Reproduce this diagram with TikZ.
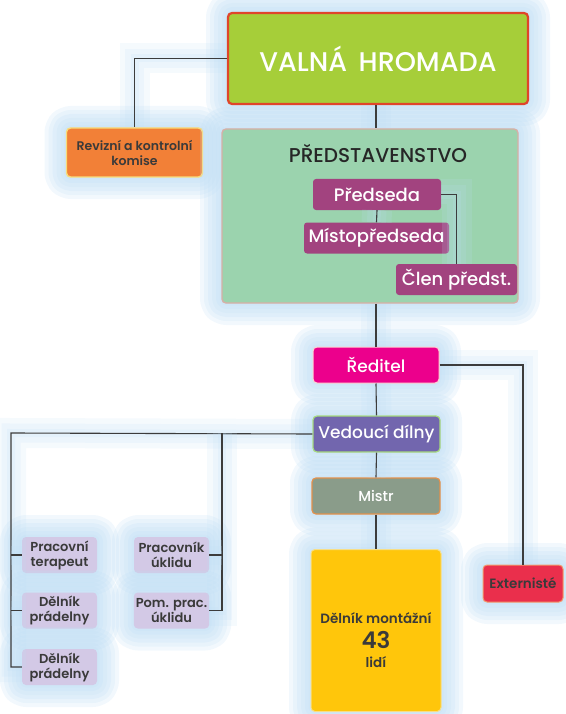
\documentclass[tikz,border=0pt]{standalone}
\usepackage{fontspec}
\setmainfont{Poppins Medium}[BoldFont=Poppins SemiBold]
\definecolor{glowblue}{HTML}{BEDDF4}
\definecolor{linegray}{HTML}{3C3C3C}
\definecolor{vhgreen}{HTML}{A6CE39}
\definecolor{vhred}{HTML}{E0452A}
\definecolor{revorange}{HTML}{F28037}
\definecolor{revyellow}{HTML}{F9DC78}
\definecolor{pstgreen}{HTML}{9BD3AE}
\definecolor{pstpink}{HTML}{D7AFA6}
\definecolor{plum}{HTML}{A2437F}
\definecolor{redmag}{HTML}{EC008C}
\definecolor{vedviolet}{HTML}{7266AE}
\definecolor{vedlime}{HTML}{A6D97E}
\definecolor{mistrgray}{HTML}{8A9C8A}
\definecolor{mistrorange}{HTML}{E3914C}
\definecolor{yellowbox}{HTML}{FFC60B}
\definecolor{yellowrim}{HTML}{F7DE86}
\definecolor{extred}{HTML}{EA2F4C}
\definecolor{extrim}{HTML}{F39A6C}
\definecolor{lavender}{HTML}{D3C9E6}
\definecolor{textgray}{HTML}{3A3A3A}
\begin{document}
\begin{tikzpicture}[x=1pt, y=-1pt]
    \tikzstyle{glow} = [preaction={draw=glowblue, line width=44pt, opacity=0.2, line join=round},
                        preaction={draw=glowblue, line width=36pt, opacity=0.2, line join=round},
                        preaction={draw=glowblue, line width=28pt, opacity=0.2, line join=round},
                        preaction={draw=glowblue, line width=20pt, opacity=0.2, line join=round},
                        preaction={draw=glowblue, line width=12pt, opacity=0.2, line join=round},
                        preaction={draw=glowblue, line width=5pt, opacity=0.2, line join=round}]
    \tikzstyle{box} = [rounded corners=4pt, inner sep=2pt, align=center, glow]
    \tikzstyle{small} = [box, fill=lavender, text=textgray, font=\fontsize{13}{15}\selectfont\bfseries, minimum width=75pt, minimum height=36pt]
    \tikzstyle{member} = [rounded corners=3pt, fill=plum, text=white, inner sep=2pt, font=\fontsize{18}{20}\selectfont, minimum height=31pt]
    \tikzstyle{line} = [draw=linegray, line width=1.1pt,
                        preaction={draw=glowblue, line width=30pt, opacity=0.16},
                        preaction={draw=glowblue, line width=19pt, opacity=0.16},
                        preaction={draw=glowblue, line width=8pt, opacity=0.16}]

    \useasboundingbox (0,0) rectangle (565,714);

    % Top of the organisation
    \node [box, draw=vhred, line width=2.2pt, fill=vhgreen, text=white, minimum width=300pt, minimum height=91pt, font=\fontsize{27}{32}\selectfont] (vh) at (378,58.5) {VALN\'A\, HROMADA};
    \node [box, draw=revyellow, line width=1.4pt, fill=revorange, text=textgray, minimum width=136pt, minimum height=49pt, font=\fontsize{12.5}{15}\selectfont\bfseries] (rev) at (134.5,152.5) {Revizn\'i a kontroln\'i\\komise};

    % Board
    \node [box, draw=pstpink, line width=1.4pt, fill=pstgreen, minimum width=296pt, minimum height=174pt] (pbox) at (370,216) {};
    \node [text=black!85, font=\fontsize{20}{24}\selectfont] (ptitle) at (378,154) {PŘEDSTAVENSTVO};
    \node [member, minimum width=128pt] (pred) at (377,194.5) {Předseda};
    \node [member, minimum width=145pt] (mist) at (376.5,238) {Místopředseda};
    \node [member, minimum width=121pt] (clen) at (456.5,279.5) {Člen předst.};

    % Management
    \node [box, draw=pink!70, line width=1pt, fill=redmag, text=white, minimum width=126pt, minimum height=36pt, font=\fontsize{17}{20}\selectfont] (red) at (376,365) {Ředitel};
    \node [box, draw=vedlime, line width=1.2pt, fill=vedviolet, text=white, minimum width=127pt, minimum height=36pt, font=\fontsize{17}{20}\selectfont] (ved) at (376.5,434) {Vedoucí dílny};
    \node [box, draw=mistrorange, line width=1.2pt, fill=mistrgray, text=white, minimum width=128pt, minimum height=36pt, font=\fontsize{14.5}{17}\selectfont] (mistr) at (376,496) {Mistr};
    \node [box, draw=yellowrim, line width=1pt, fill=yellowbox, minimum width=130pt, minimum height=162pt] (mont) at (376,630.5) {};
    \node [text=textgray, align=center, font=\fontsize{13.5}{16}\selectfont\bfseries] (montlbl) at (376,640) {Dělník montážní\\[6pt]{\fontsize{23}{24}\selectfont 43}\\[3pt]lidí};
    \node [box, draw=extrim, line width=1pt, fill=extred, text=textgray, minimum width=80pt, minimum height=37pt, font=\fontsize{13.5}{16}\selectfont\bfseries] (ext) at (523,583.5) {Externisté};

    % Workshop staff
    \node [small] (ter) at (59.5,555) {Pracovní\\terapeut};
    \node [small] (prad1) at (59.5,610.5) {Dělník\\prádelny};
    \node [small] (prad2) at (59.5,667) {Dělník\\prádelny};
    \node [small] (ukl) at (171.5,555) {Pracovník\\úklidu};
    \node [small] (pom) at (171.5,610.5) {Pom. prac.\\úklidu};

    % Connections
    \coordinate (lbus) at (11,433);
    \coordinate (rbus) at (222,433);
    \draw [line] (vh.west) -| (rev.north);
    \draw [line] (red.north |- vh.south) -- (red.north |- pbox.north);
    \draw [line] (pred.south) -- (mist.north);
    \draw [line] (pred.east) -| (clen.north);
    \draw [line] (red.north |- pbox.south) -- (red.north);
    \draw [line] (red.south) -- (ved.north);
    \draw [line] (red.east) -| (ext.north);
    \draw [line] (ved.south) -- (mistr.north);
    \draw [line] (mistr.south) -- (mont.north);
    \draw [line] (ved.west) -- (lbus) |- (prad2.west);
    \draw [line] (lbus |- ter.west) -- (ter.west);
    \draw [line] (lbus |- prad1.west) -- (prad1.west);
    \draw [line] (rbus) |- (pom.east);
    \draw [line] (rbus |- ukl.east) -- (ukl.east);
\end{tikzpicture}
\end{document}
